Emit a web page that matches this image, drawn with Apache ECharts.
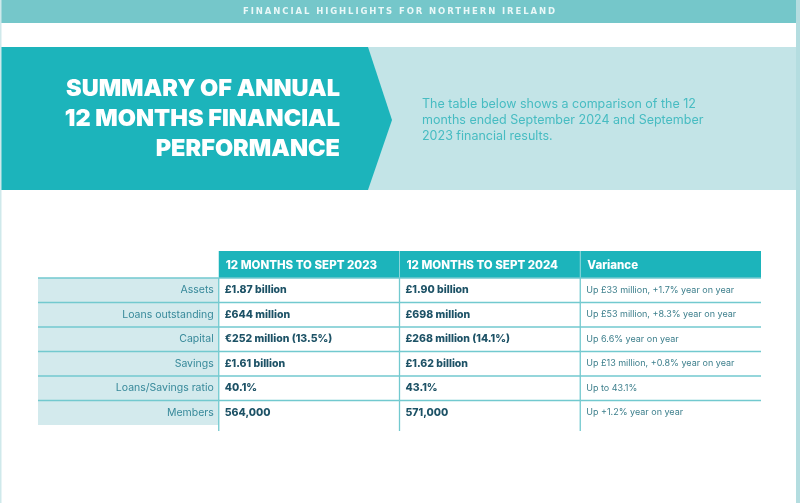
<!DOCTYPE html>
<html><head><meta charset="utf-8">
<script src="https://cdn.jsdelivr.net/npm/echarts@6/dist/echarts.min.js"></script>
<style>html,body{margin:0;padding:0;background:#fff}#c{width:800px;height:503px}</style>
</head><body><div id="c"></div><script>
// ---- content ----
const pageTitle = 'FINANCIAL HIGHLIGHTS FOR NORTHERN IRELAND';
const bannerTitle = ['SUMMARY OF ANNUAL', '12 MONTHS FINANCIAL', 'PERFORMANCE'];
const bannerText = ['The table below shows a comparison of the 12', 'months ended September 2024 and September', '2023 financial results.'];
const columnHeaders = ['', '12 MONTHS TO SEPT 2023', '12 MONTHS TO SEPT 2024', 'Variance'];
const rowLabels = ['Assets', 'Loans outstanding', 'Capital', 'Savings', 'Loans/Savings ratio', 'Members'];
const values2023 = ['£1.87 billion', '£644 million', '€252 million (13.5%)', '£1.61 billion', '40.1%', '564,000'];
const values2024 = ['£1.90 billion', '£698 million', '£268 million (14.1%)', '£1.62 billion', '43.1%', '571,000'];
const variance = ['Up £33 million, +1.7% year on year', 'Up £53 million, +8.3% year on year', 'Up 6.6% year on year', 'Up £13 million, +0.8% year on year', 'Up to 43.1%', 'Up +1.2% year on year'];

// ---- styles ----
const TEAL = '#1cb4bb', LIGHT = '#c3e4e7', LABEL_BG = '#d3eaed', LINE = '#72c9cf';
const FONT = 'Inter, sans-serif';
const HEADER_TOP = -1.1;
const LAST = rowLabels.length - 1;

// letter-spaced drawing for the small page heading only (text stays real text)
(function () {
  const proto = CanvasRenderingContext2D.prototype;
  const orig = proto.fillText;
  proto.fillText = function (t, x, y, m) {
    const spaced = t === pageTitle && 'letterSpacing' in this;
    if (spaced) { this.letterSpacing = '1.9px'; const f = this.font; this.font = f; }
    else if ('letterSpacing' in this && this.letterSpacing !== '0px') { this.letterSpacing = '0px'; const f = this.font; this.font = f; }
    const r = m === undefined ? orig.call(this, t, x, y) : orig.call(this, t, x, y, m);
    if (spaced) { this.letterSpacing = '0px'; const f = this.font; this.font = f; }
    return r;
  };
})();

const cells = [];
columnHeaders.forEach((h, c) => cells.push({ value: [c, -1], text: h }));
rowLabels.forEach((lab, r) => {
  cells.push({ value: [0, r], text: lab });
  cells.push({ value: [1, r], text: values2023[r] });
  cells.push({ value: [2, r], text: values2024[r] });
  cells.push({ value: [3, r], text: variance[r] });
});

function renderItem(params, api) {
  const c = api.value(0), r = api.value(1);
  const cell = cells[params.dataIndex];
  const p0 = api.coord([c, r < 0 ? HEADER_TOP : r]);
  const p1 = api.coord([c + 1, r < 0 ? 0 : r + 1]);
  const x0 = p0[0], y0 = p0[1], x1 = p1[0], y1 = p1[1];
  const cy = (y0 + y1) / 2;
  const ch = [];
  let fill = 'rgba(0,0,0,0)';
  if (r < 0 && c > 0) fill = TEAL;
  else if (r >= 0 && c === 0) fill = LABEL_BG;
  ch.push({ type: 'rect', shape: { x: x0, y: y0, width: x1 - x0, height: y1 - y0 }, style: { fill } });
  if (r >= 0) {
    ch.push({ type: 'line', shape: { x1: x0, y1: y0, x2: x1, y2: y0 }, style: { stroke: LINE, lineWidth: 1.5 } });
    if (c > 0) ch.push({ type: 'line', shape: { x1: x0, y1: y0, x2: x0, y2: r === LAST ? y1 + 6 : y1 }, style: { stroke: LINE, lineWidth: 1.3 } });
  } else if (c > 1) {
    ch.push({ type: 'line', shape: { x1: x0, y1: y0, x2: x0, y2: y1 }, style: { stroke: '#8fd6da', lineWidth: 1 } });
  }
  let ts;
  if (r < 0) ts = { x: x0 + 7, y: cy + 1, text: cell.text, fill: '#fff', font: '800 11.5px ' + FONT, align: 'left', verticalAlign: 'middle' };
  else if (c === 0) ts = { x: x1 - 5, y: cy, text: cell.text, fill: '#37899a', font: '400 10.5px ' + FONT, align: 'right', verticalAlign: 'middle' };
  else if (c < 3) ts = { x: x0 + 6, y: cy, text: cell.text, fill: '#1d5266', font: '800 10.5px ' + FONT, align: 'left', verticalAlign: 'middle' };
  else ts = { x: x0 + 6, y: cy, text: cell.text, fill: '#3d7f8c', font: '400 9px ' + FONT, align: 'left', verticalAlign: 'middle' };
  ch.push({ type: 'text', style: ts });
  return { type: 'group', children: ch };
}

const graphics = [
  { type: 'rect', shape: { x: 0, y: 0, width: 797, height: 23 }, style: { fill: '#75c7ca' } },
  { type: 'text', style: { x: 400, y: 12, text: pageTitle, fill: '#eaf8f8', font: '700 8.5px "DejaVu Sans", sans-serif', align: 'center', verticalAlign: 'middle' } },
  { type: 'rect', shape: { x: 0, y: 47, width: 797, height: 143 }, style: { fill: LIGHT } },
  { type: 'polygon', shape: { points: [[0, 47], [368, 47], [392, 120], [368, 190], [0, 190]] }, style: { fill: TEAL } },
  { type: 'rect', shape: { x: 796, y: 0, width: 4, height: 503 }, style: { fill: '#b4dde0' } },
  { type: 'rect', shape: { x: 0, y: 0, width: 1.5, height: 503 }, style: { fill: '#cfe9eb' } }
];
bannerTitle.forEach((t, i) => graphics.push({ type: 'text', style: { x: 340, y: 89 + i * 30, text: t, fill: '#fff', font: '900 23.5px ' + FONT, align: 'right', verticalAlign: 'middle' } }));
bannerText.forEach((t, i) => graphics.push({ type: 'text', style: { x: 422, y: 104 + i * 16, text: t, fill: '#47bcc2', font: '400 12.5px ' + FONT, align: 'left', verticalAlign: 'middle' } }));

const chart = echarts.init(document.getElementById('c'), null, { renderer: 'canvas' });
chart.setOption({
  animation: false,
  backgroundColor: '#fff',
  graphic: graphics,
  grid: { left: 38, right: 39, top: 251, bottom: 78 },
  xAxis: { type: 'value', min: 0, max: 4, show: false },
  yAxis: { type: 'value', min: HEADER_TOP, max: 6, inverse: true, show: false },
  series: [{ type: 'custom', renderItem, data: cells, clip: false }]
});
</script></body></html>
